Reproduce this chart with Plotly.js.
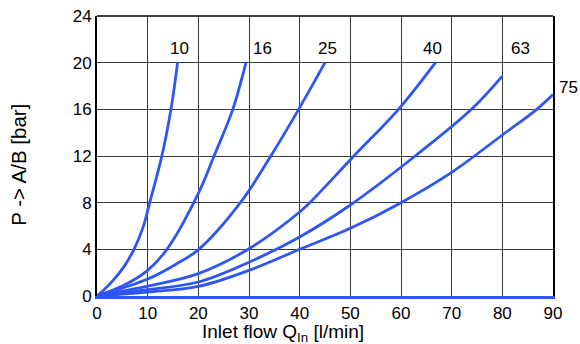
<!DOCTYPE html>
<html>
<head>
<meta charset="utf-8">
<script src="https://cdn.plot.ly/plotly-3.0.1.min.js"></script>
<style>html,body{margin:0;padding:0;background:#fff;}#chart{width:580px;height:344px;}</style>
</head>
<body>
<div id="chart"></div>
<script>
// Curve labels (nominal flow size)
const curveNames = ["10", "16", "25", "40", "63", "75"];

// Inlet flow [l/min] and pressure drop [bar] per curve
const flow10 = [0, 2.6, 5.3, 7.3, 9.1, 10.4, 12.8, 14.6, 15.9];
const dp10   = [0, 1.06, 2.5, 4, 5.9, 8, 12, 16, 20];

const flow16 = [0, 5.3, 10, 13.8, 20, 23.1, 26.8, 29.4];
const dp16   = [0, 0.92, 2.2, 4, 8.8, 12, 16, 20];

const flow25 = [0, 10, 15.8, 20.1, 28.3, 34.3, 39.8, 45];
const dp25   = [0, 1.45, 2.78, 4, 8, 12, 16, 20];

const flow40 = [0, 10, 20, 30, 40, 42, 50.7, 59.5, 66.8];
const dp40   = [0, 0.85, 1.92, 4.05, 7.2, 8, 12, 16, 20];

const flow63 = [0, 10, 20, 30, 40, 50, 62.8, 73.9, 80];
const dp63   = [0, 0.55, 1.2, 2.9, 5.06, 7.8, 12, 16, 18.85];

const flow75 = [0, 10, 20, 30, 40, 50, 60, 70, 80, 86.8, 90];
const dp75   = [0, 0.34, 0.82, 2.2, 4, 5.8, 8, 10.6, 13.8, 16, 17.26];

// Label anchor positions (data coords); last label sits just past the right edge
const labelX = [16.3, 32.6, 45.4, 66.3, 83.5, 90];
const labelY = [21.2, 21.2, 21.2, 21.2, 21.2, 17.9];
const labelShift = [0, 0, 0, 0, 0, 15];

const xTicks = [0, 10, 20, 30, 40, 50, 60, 70, 80, 90];
const yTicks = [0, 4, 8, 12, 16, 20, 24];

const xTitle = "Inlet flow Q<sub>In</sub> [l/min]";
const yTitle = "P -> A/B [bar]";

const flows = [flow10, flow16, flow25, flow40, flow63, flow75];
const dps = [dp10, dp16, dp25, dp40, dp63, dp75];

const blue = "#2e55f6";
const font = "Liberation Sans, Arial, sans-serif";

const traces = flows.map((f, i) => ({
  x: f, y: dps[i], type: "scatter", mode: "lines", name: curveNames[i],
  line: {color: blue, width: 2.8, shape: "spline", smoothing: 1.0},
  hoverinfo: "skip", cliponaxis: false
}));

const annotations = curveNames.map((n, i) => ({
  x: labelX[i], y: labelY[i], xref: "x", yref: "y", text: n, showarrow: false,
  xanchor: "center", yanchor: "middle", xshift: labelShift[i],
  font: {family: font, size: 17, color: "#000"}
}));
annotations.push({
  x: 0.408, y: -0.133, xref: "paper", yref: "paper", text: xTitle, showarrow: false,
  xanchor: "center", yanchor: "middle", font: {family: font, size: 19, color: "#000"}
});
annotations.push({
  x: -0.172, y: 0.467, xref: "paper", yref: "paper", text: yTitle, showarrow: false,
  textangle: -90, xanchor: "center", yanchor: "middle", font: {family: font, size: 20.5, color: "#000"}
});

const layout = {
  width: 580, height: 344,
  margin: {l: 97, r: 27, t: 16, b: 48, pad: 0},
  paper_bgcolor: "#fff", plot_bgcolor: "#fff",
  showlegend: false,
  font: {family: font, size: 17, color: "#000"},
  xaxis: {
    range: [0, 90], tickvals: xTicks, ticktext: xTicks.map(String),
    showgrid: true, gridcolor: "#3a3a3a", gridwidth: 1,
    zeroline: false, showline: true, linecolor: blue, linewidth: 2.5,
    ticks: "", ticklen: 0, fixedrange: true,
    tickfont: {family: font, size: 17, color: "#000"}
  },
  yaxis: {
    range: [0, 24], tickvals: yTicks, ticktext: yTicks.map(String),
    showgrid: true, gridcolor: "#3a3a3a", gridwidth: 1,
    zeroline: false, showline: true, mirror: true, linecolor: "#000", linewidth: 2,
    ticks: "", ticklen: 0, fixedrange: true,
    tickfont: {family: font, size: 17, color: "#000"}
  },
  shapes: [{type: "line", xref: "paper", yref: "paper", x0: 0, x1: 1, y0: 1, y1: 1,
            line: {color: "#000", width: 1.5}}],
  annotations: annotations
};

Plotly.newPlot("chart", traces, layout, {staticPlot: true, displayModeBar: false});
</script>
</body>
</html>
